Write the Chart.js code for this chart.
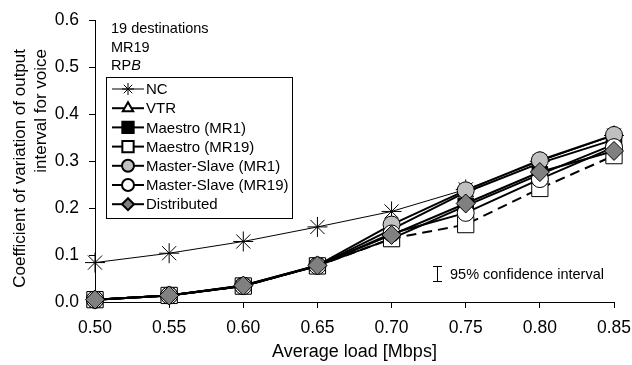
<!DOCTYPE html>
<html>
<head>
<meta charset="utf-8">
<script src="https://cdn.jsdelivr.net/npm/chart.js@4/dist/chart.umd.min.js"></script>
<style>
  body { margin: 0; background: #fff; }
  #wrap { width: 632px; height: 365px; }
</style>
</head>
<body>
<div id="wrap"><canvas id="cv" width="632" height="365"></canvas></div>
<script>
// average load [Mbps]
const loads = ['0.50', '0.55', '0.60', '0.65', '0.70', '0.75', '0.80', '0.85'];

// coefficient of variation
const nc          = [0.084, 0.104, 0.129, 0.160, 0.193, 0.240, 0.300, 0.355];
const vtr         = [0.005, 0.014, 0.034, 0.077, 0.155, 0.234, 0.296, 0.346];
const maestroMR1  = [0.005, 0.014, 0.034, 0.077, 0.135, 0.205, 0.272, 0.336];
const maestroMR19 = [0.005, 0.014, 0.034, 0.077, 0.135, 0.165, 0.242, 0.312];
const msMR1       = [0.005, 0.014, 0.035, 0.078, 0.165, 0.238, 0.302, 0.356];
const msMR19      = [0.005, 0.014, 0.034, 0.077, 0.146, 0.190, 0.262, 0.330];
const distributed = [0.005, 0.014, 0.035, 0.078, 0.143, 0.210, 0.277, 0.322];

const yTicks = [0, 0.1, 0.2, 0.3, 0.4, 0.5, 0.6];
const yTitle = ['Coefficient of variation of output', 'interval for voice'];
const notes = ['19 destinations', 'MR19', 'RP'];

const FONT = '"Liberation Sans", Arial, sans-serif';

function series(label, data, style, order) {
    return Object.assign({
        label: label,
        data: data,
        borderColor: '#000',
        borderWidth: 2,
        pointBorderColor: '#000',
        pointBorderWidth: 1,
        fill: false,
        tension: 0,
        clip: false,
        order: order
    }, style);
}

const datasets = [
    series('NC', nc, { borderWidth: 1, pointStyle: 'star', pointRadius: 10, pointBackgroundColor: '#000' }, 7),
    series('VTR', vtr, { pointStyle: 'triangle', pointRadius: 9, pointBackgroundColor: '#fff' }, 6),
    series('Maestro (MR1)', maestroMR1, { pointStyle: 'rect', pointRadius: 11, pointBackgroundColor: '#000' }, 5),
    series('Maestro (MR19)', maestroMR19, { borderDash: [10, 6], pointStyle: 'rect', pointRadius: 11.5, pointBackgroundColor: '#fff' }, 4),
    series('Master-Slave (MR1)', msMR1, { pointStyle: 'circle', pointRadius: 8.5, pointBackgroundColor: '#c0c0c0' }, 3),
    series('Master-Slave (MR19)', msMR19, { pointStyle: 'circle', pointRadius: 8.5, pointBackgroundColor: '#fff' }, 2),
    series('Distributed', distributed, { pointStyle: 'rectRot', pointRadius: 9.5, pointBackgroundColor: '#808080' }, 1)
];

// legend box, y title and text notes drawn on the canvas
const extras = {
    id: 'extras',
    afterDatasetsDraw(chart) {
        const ctx = chart.ctx;
        const area = chart.chartArea;
        ctx.save();

        // y axis title, two lines, ends aligned at the top
        ctx.fillStyle = '#000';
        ctx.font = '17px ' + FONT;
        ctx.textBaseline = 'middle';
        ctx.textAlign = 'right';
        ctx.save();
        ctx.translate(20, 49);
        ctx.rotate(-Math.PI / 2);
        ctx.fillText(yTitle[0], 0, 0);
        ctx.fillText(yTitle[1], 0, 21);
        ctx.restore();

        // top-left notes
        ctx.font = '14.5px ' + FONT;
        ctx.textAlign = 'left';
        const nx = area.left + 16;
        ctx.fillText(notes[0], nx, 29);
        ctx.fillText(notes[1], nx, 48);
        ctx.fillText(notes[2], nx, 66);
        const w = ctx.measureText(notes[2]).width;
        ctx.font = 'italic 14.5px ' + FONT;
        ctx.fillText('B', nx + w, 66);

        // legend
        const lx = 106, ly = 77, lw = 186, lh = 141;
        ctx.fillStyle = '#fff';
        ctx.fillRect(lx, ly, lw, lh);
        ctx.strokeStyle = '#000';
        ctx.lineWidth = 1;
        ctx.strokeRect(lx + 0.5, ly + 0.5, lw, lh);
        ctx.font = '15px ' + FONT;
        chart.data.datasets.forEach((ds, i) => {
            const y = 89 + i * 19.2;
            ctx.beginPath();
            ctx.lineWidth = ds.borderWidth;
            ctx.strokeStyle = '#000';
            ctx.setLineDash([]);
            ctx.moveTo(112, y);
            ctx.lineTo(144, y);
            ctx.stroke();
            ctx.fillStyle = ds.pointBackgroundColor;
            ctx.strokeStyle = '#000';
            Chart.helpers.drawPoint(ctx, {
                pointStyle: ds.pointStyle,
                radius: ds.pointStyle === 'rect' ? 8 : 6,
                rotation: 0,
                borderWidth: 1
            }, 128, y);
            ctx.fillStyle = '#000';
            ctx.fillText(ds.label, 146, y + 1);
        });

        // confidence interval key
        ctx.strokeStyle = '#000';
        ctx.lineWidth = 1;
        ctx.beginPath();
        ctx.moveTo(437.5, 266); ctx.lineTo(437.5, 282);
        ctx.moveTo(433, 266.5); ctx.lineTo(442, 266.5);
        ctx.moveTo(433, 281.5); ctx.lineTo(442, 281.5);
        ctx.stroke();
        ctx.fillStyle = '#000';
        ctx.font = '14.5px ' + FONT;
        ctx.fillText('95% confidence interval', 450, 275);

        ctx.restore();
    }
};

new Chart(document.getElementById('cv'), {
    type: 'line',
    data: { labels: loads, datasets: datasets },
    options: {
        responsive: false,
        animation: false,
        devicePixelRatio: 1,
        layout: { padding: { top: 17, right: 18, left: 0, bottom: 0 } },
        plugins: {
            legend: { display: false },
            tooltip: { enabled: false }
        },
        scales: {
            x: {
                type: 'category',
                offset: false,
                afterFit(scale) {
                    scale.height = 63;
                    scale.paddingLeft = 17;
                    scale.paddingRight = 17;
                },
                border: { color: '#000', width: 1 },
                grid: { display: true, drawOnChartArea: false, drawTicks: true, tickLength: 6, color: '#000' },
                ticks: { color: '#000', font: { family: FONT, size: 17.5 }, padding: 10, maxRotation: 0 },
                title: {
                    display: true,
                    text: 'Average load [Mbps]',
                    color: '#000',
                    font: { family: FONT, size: 18 },
                    padding: { top: 2, bottom: 2 }
                }
            },
            y: {
                min: 0,
                max: 0.6,
                afterFit(scale) { scale.width = 95; },
                afterBuildTicks(scale) {
                    scale.ticks = yTicks.map(v => ({ value: v }));
                },
                border: { color: '#000', width: 1 },
                grid: { display: true, drawOnChartArea: false, drawTicks: true, tickLength: 6, color: '#000' },
                ticks: {
                    color: '#000',
                    font: { family: FONT, size: 17.5 },
                    padding: 10,
                    callback: v => Number(v).toFixed(1)
                }
            }
        }
    },
    plugins: [extras]
});
</script>
</body>
</html>
